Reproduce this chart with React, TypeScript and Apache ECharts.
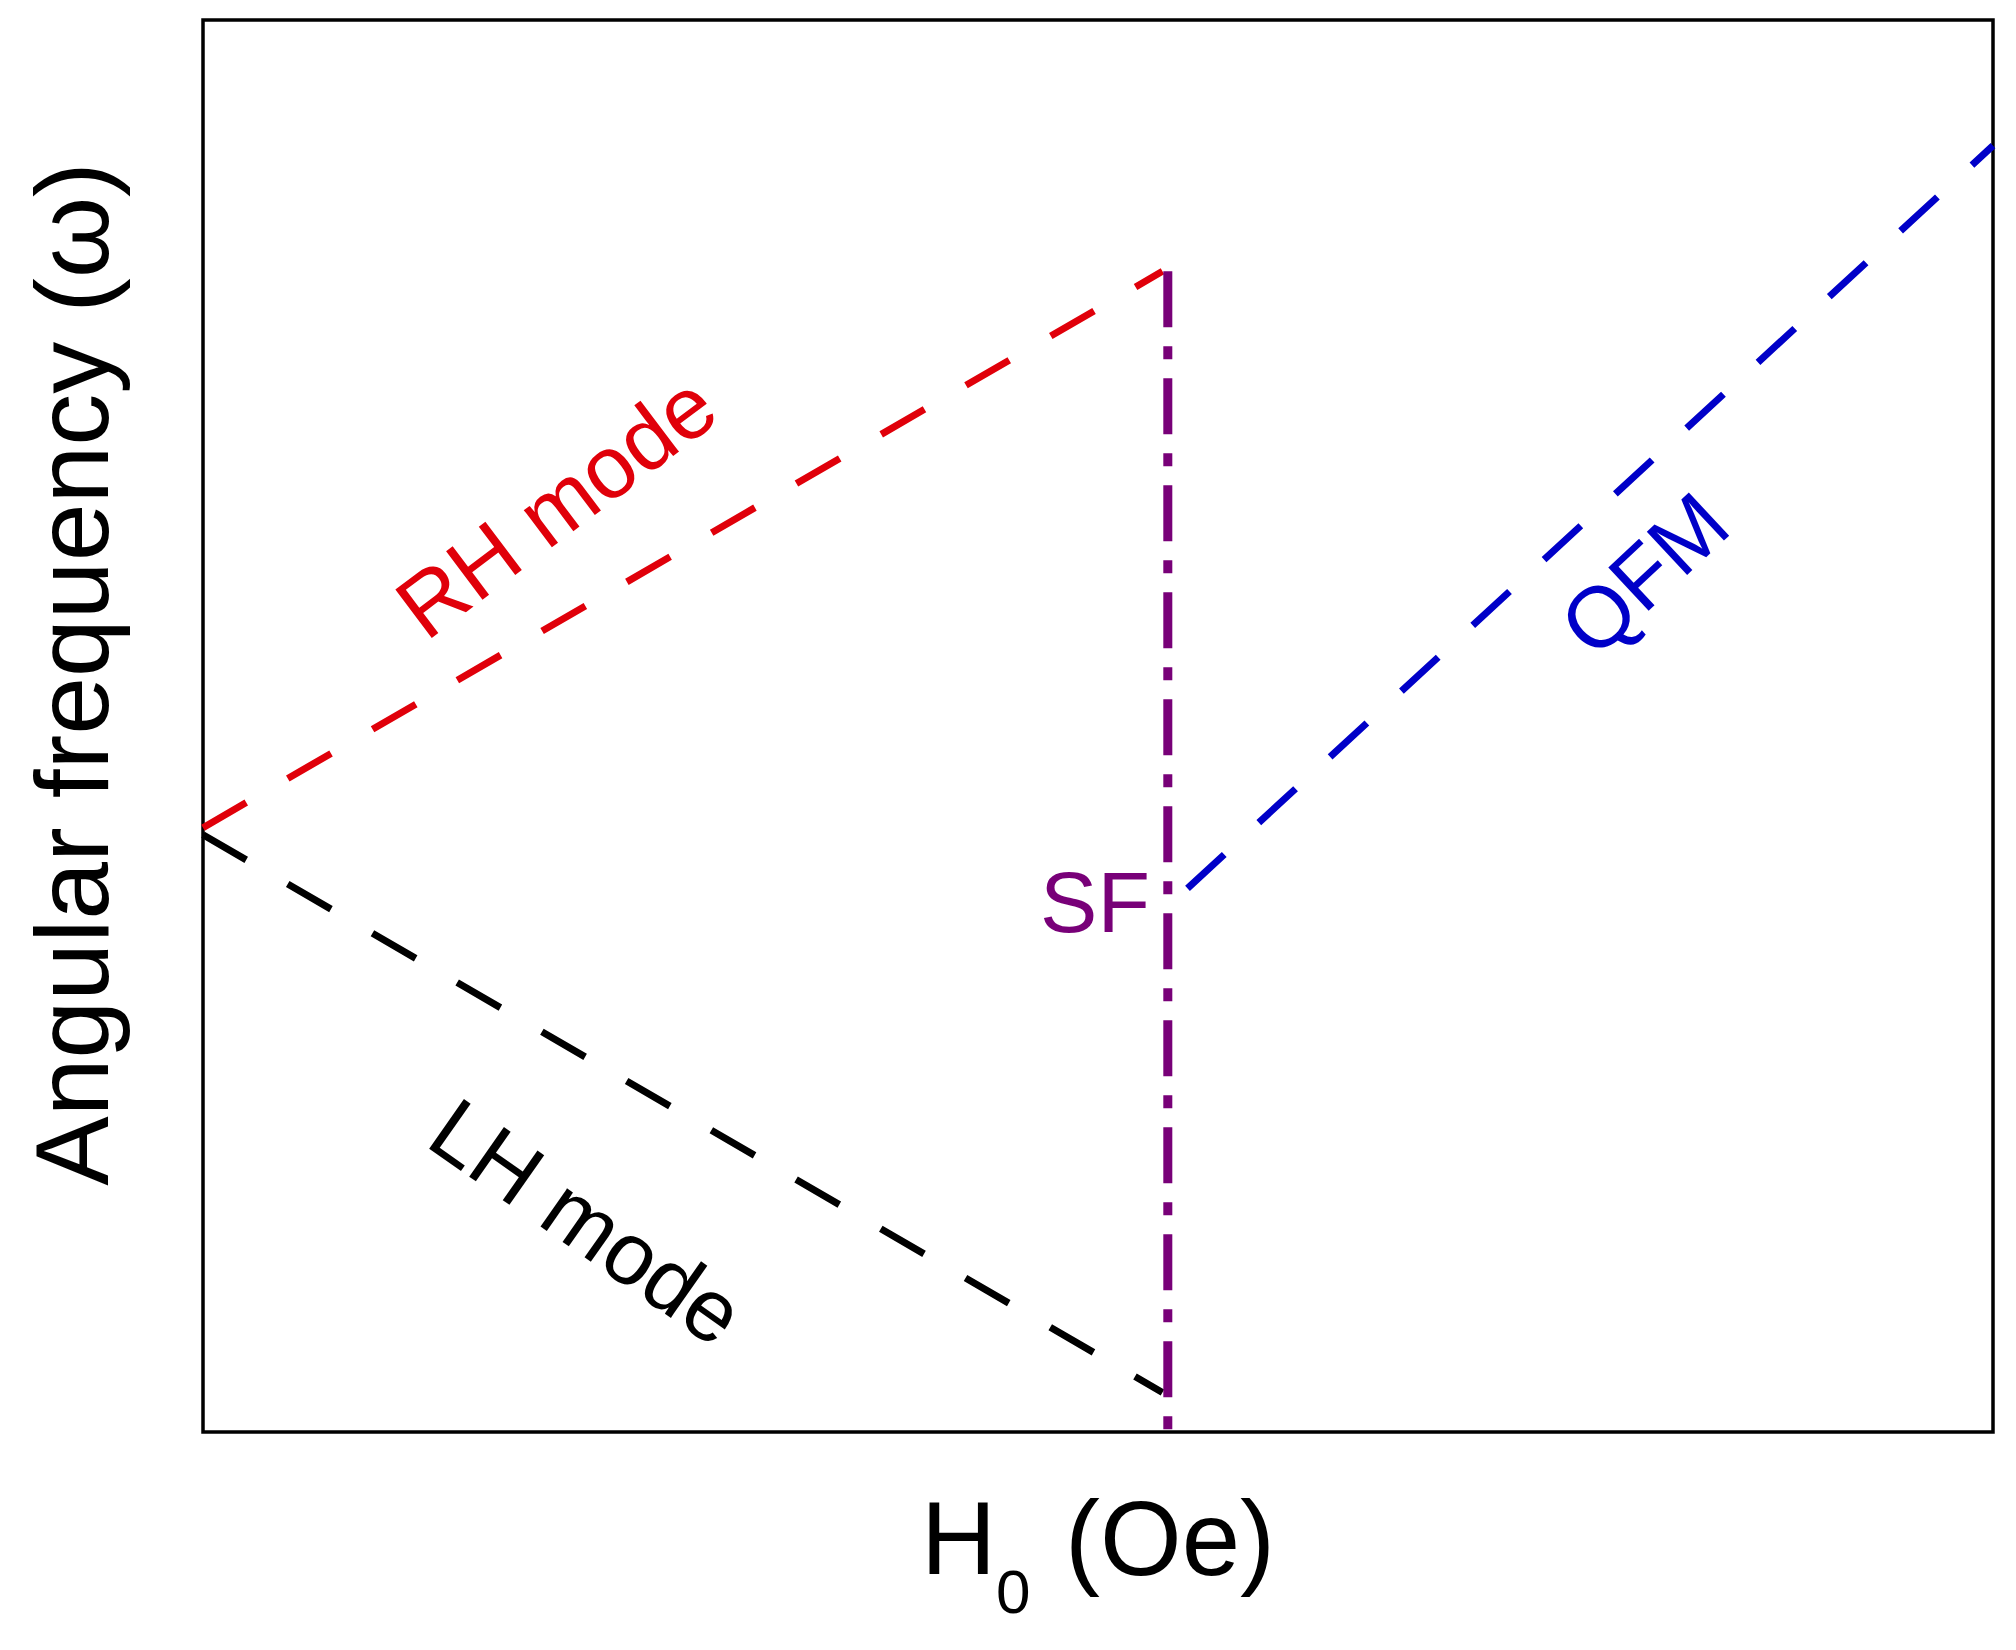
import React, { useEffect, useRef } from "react";
import * as echarts from "echarts";

// Data (axis units: H0 0..100, omega 0..100, no tick labels in the original)
const rhMode: number[][] = [[0, 42.8], [53.6, 82.2]];
const lhMode: number[][] = [[0, 42.3], [53.6, 2.8]];
const sfLine: number[][] = [[53.9, 82.2], [53.9, 0]];
const qfmMode: number[][] = [[55.0, 38.5], [100, 91.1]];

const xTitleMain = "H";
const xTitleSub = "0";
const xTitleUnit = "(Oe)";
const yTitle = "Angular frequency (ω)";

const FONT = "'Liberation Sans', Arial, Helvetica, sans-serif";
const RED = "#e0000a";
const BLACK = "#000000";
const PURPLE = "#780078";
const BLUE = "#0000c8";

export default function App() {
  const ref = useRef<HTMLDivElement>(null);
  useEffect(() => {
    if (!ref.current) return;
    const chart = echarts.init(ref.current, undefined, { renderer: "svg" });
    const lineSeries = (name: string, data: number[][], color: string, width: number, dash: number[], offset = 0) => ({
      name,
      type: "line",
      data,
      symbol: "none",
      showSymbol: false,
      silent: true,
      lineStyle: { color, width, type: dash, dashOffset: offset, cap: "butt" },
    });
    chart.setOption({
      animation: false,
      backgroundColor: "#ffffff",
      grid: {
        left: 203,
        top: 20,
        width: 1790,
        height: 1412,
        show: true,
        borderColor: "#000",
        borderWidth: 3.5,
        backgroundColor: "transparent",
      },
      xAxis: {
        type: "value",
        min: 0,
        max: 100,
        axisLine: { show: false },
        axisTick: { show: false },
        axisLabel: { show: false },
        splitLine: { show: false },
      },
      yAxis: {
        type: "value",
        min: 0,
        max: 100,
        axisLine: { show: false },
        axisTick: { show: false },
        axisLabel: { show: false },
        splitLine: { show: false },
      },
      series: [
        lineSeries("RH mode", rhMode, RED, 7, [50, 48]),
        lineSeries("LH mode", lhMode, BLACK, 7, [50, 48]),
        lineSeries("SF", sfLine, PURPLE, 9, [56, 19, 13, 19]),
        lineSeries("QFM", qfmMode, BLUE, 7, [50, 47]),
      ],
      graphic: [
        {
          type: "text",
          x: 556,
          y: 506,
          rotation: (37 * Math.PI) / 180,
          style: { text: "RH mode", fill: RED, fontSize: 88, fontFamily: FONT, align: "center", verticalAlign: "middle" },
        },
        {
          type: "text",
          x: 587,
          y: 1222,
          rotation: (-35 * Math.PI) / 180,
          style: { text: "LH mode", fill: BLACK, fontSize: 88, fontFamily: FONT, align: "center", verticalAlign: "middle" },
        },
        {
          type: "text",
          x: 1644,
          y: 574,
          rotation: (43 * Math.PI) / 180,
          style: { text: "QFM", fill: BLUE, fontSize: 86, fontFamily: FONT, align: "center", verticalAlign: "middle" },
        },
        {
          type: "text",
          x: 1150,
          y: 902,
          style: { text: "SF", fill: PURPLE, fontSize: 86, fontFamily: FONT, align: "right", verticalAlign: "middle" },
        },
        {
          type: "text",
          x: 921,
          y: 1538,
          style: { text: xTitleMain, fill: "#000", fontSize: 104, fontFamily: FONT, align: "left", verticalAlign: "middle" },
        },
        {
          type: "text",
          x: 996,
          y: 1591,
          style: { text: xTitleSub, fill: "#000", fontSize: 62, fontFamily: FONT, align: "left", verticalAlign: "middle" },
        },
        {
          type: "text",
          x: 1065,
          y: 1538,
          style: { text: xTitleUnit, fill: "#000", fontSize: 105, fontFamily: FONT, align: "left", verticalAlign: "middle" },
        },
        {
          type: "text",
          x: 72,
          y: 674,
          rotation: Math.PI / 2,
          style: { text: yTitle, fill: "#000", fontSize: 104, fontFamily: FONT, align: "center", verticalAlign: "middle" },
        },
      ],
    });
    return () => chart.dispose();
  }, []);
  return (
    <div
      ref={ref}
      style={{ position: "fixed", left: 0, top: 0, width: 2016, height: 1650, background: "#fff" }}
    />
  );
}
